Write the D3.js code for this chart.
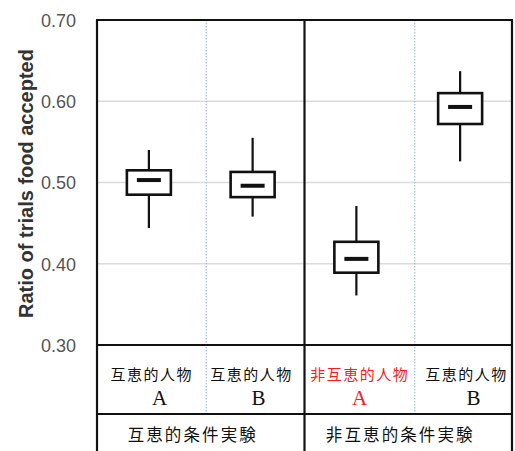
<!DOCTYPE html>
<html>
<head>
<meta charset="utf-8">
<script src="https://cdn.jsdelivr.net/npm/d3@7"></script>
<style>
  html, body { margin: 0; padding: 0; background: #fff; }
  svg { display: block; }
</style>
</head>
<body>
<svg id="chart" width="515" height="451"></svg>
<script>
// Box summaries per subject (ratio of trials in which food was accepted)
const whiskerLow  = [0.444, 0.458, 0.361, 0.526];
const quartile1   = [0.485, 0.482, 0.389, 0.572];
const medians     = [0.503, 0.496, 0.406, 0.593];
const quartile3   = [0.515, 0.513, 0.427, 0.610];
const whiskerHigh = [0.540, 0.555, 0.471, 0.637];

// Subject labels (two lines) and whether the subject behaved reciprocally
const subjectNames   = ["互恵的人物", "互恵的人物", "非互恵的人物", "互恵的人物"];
const subjectLetters = ["A", "B", "A", "B"];
const reciprocal     = [true, true, false, true];

// Experimental conditions, each covering two subjects
const conditions = ["互恵的条件実験", "非互恵的条件実験"];

const yTicks = [0.30, 0.40, 0.50, 0.60, 0.70];
const yTitle = "Ratio of trials food accepted";

const svg = d3.select("#chart");

const M = { left: 97, right: 512, top: 20, plot: 345, cat: 414, bottom: 451 };

const y = d3.scaleLinear().domain([0.30, 0.70]).range([M.plot, M.top]);
const x = d3.scaleBand().domain(d3.range(subjectNames.length)).range([M.left, M.right]).padding(0);
const xg = d3.scaleBand().domain(conditions).range([M.left, M.right]).padding(0);

// Table column edges: outer frame, condition divider and the dotted subject dividers
const dotted = [x(1) + 5.5, x(3) + 6.5];
const edges = [M.left, dotted[0], xg(conditions[1]), dotted[1], M.right];
const cellMid = i => (edges[i] + edges[i + 1]) / 2;
// Small hand-tuned nudges for the cell text (name line, letter line)
const nameNudge   = [0, -4, 0, 3];
const letterNudge = [8, 7, 0, 7];

// Horizontal gridlines
svg.append("g")
  .selectAll("line")
  .data(yTicks.filter(t => t > 0.30 && t < 0.70))
  .join("line")
  .attr("x1", M.left).attr("x2", M.right)
  .attr("y1", d => y(d)).attr("y2", d => y(d))
  .attr("stroke", "#dcdcdc").attr("stroke-width", 1.5);

// Dotted separators between subjects within each condition
svg.append("g")
  .selectAll("line")
  .data(dotted)
  .join("line")
  .attr("x1", d => d).attr("x2", d => d)
  .attr("y1", M.top).attr("y2", M.cat)
  .attr("stroke", "#8fb0dd").attr("stroke-width", 1)
  .attr("stroke-dasharray", "1.5,1.5");

// Y axis tick labels
const yAxis = d3.axisLeft(y).tickValues(yTicks).tickSize(0).tickPadding(0)
  .tickFormat(d3.format(".2f"));
const ya = svg.append("g").attr("transform", `translate(76,0)`).call(yAxis);
ya.select(".domain").remove();
ya.selectAll("text")
  .attr("font-family", "Liberation Sans, Arial, sans-serif")
  .attr("font-size", 18)
  .attr("fill", "#555")
  .attr("dy", "0.36em");

// Y axis title
svg.append("text")
  .attr("transform", `translate(33,183.5) rotate(-90)`)
  .attr("text-anchor", "middle")
  .attr("font-family", "Liberation Sans, Arial, sans-serif")
  .attr("font-weight", "bold")
  .attr("font-size", 20)
  .attr("fill", "#333")
  .text(yTitle);

// Box plots
const boxW = 44, medW = 24;
const boxes = svg.append("g").selectAll("g")
  .data(d3.range(subjectNames.length))
  .join("g")
  .attr("transform", i => `translate(${x(i) + x.bandwidth() / 2},0)`);

boxes.append("line")
  .attr("x1", 0).attr("x2", 0)
  .attr("y1", i => y(whiskerHigh[i])).attr("y2", i => y(whiskerLow[i]))
  .attr("stroke", "#111").attr("stroke-width", 2.2);

boxes.append("rect")
  .attr("x", -boxW / 2).attr("width", boxW)
  .attr("y", i => y(quartile3[i]))
  .attr("height", i => y(quartile1[i]) - y(quartile3[i]))
  .attr("fill", "#fff").attr("stroke", "#111").attr("stroke-width", 2.6);

boxes.append("line")
  .attr("x1", -medW / 2).attr("x2", medW / 2)
  .attr("y1", i => y(medians[i])).attr("y2", i => y(medians[i]))
  .attr("stroke", "#111").attr("stroke-width", 4);

// Frame and table lines
const frame = svg.append("g").attr("stroke", "#111").attr("stroke-width", 2.2).attr("fill", "none");
frame.append("line").attr("x1", M.left - 1).attr("x2", M.right + 1).attr("y1", M.top).attr("y2", M.top);
frame.append("line").attr("x1", M.left).attr("x2", M.left).attr("y1", M.top).attr("y2", M.bottom);
frame.append("line").attr("x1", M.right).attr("x2", M.right).attr("y1", M.top).attr("y2", M.bottom);
frame.append("line").attr("x1", edges[2]).attr("x2", edges[2]).attr("y1", M.top).attr("y2", M.bottom);
frame.append("line").attr("x1", M.left).attr("x2", M.right).attr("y1", M.plot).attr("y2", M.plot);
frame.append("line").attr("x1", M.left).attr("x2", M.right).attr("y1", M.cat).attr("y2", M.cat);

// Subject labels
const cat = svg.append("g").selectAll("g")
  .data(d3.range(subjectNames.length))
  .join("g")
  .attr("transform", i => `translate(${cellMid(i) + nameNudge[i]},0)`)
  .attr("fill", i => reciprocal[i] ? "#111" : "#ff1a1a");

cat.append("text")
  .attr("y", 374.5).attr("dy", "0.35em")
  .attr("text-anchor", "middle")
  .attr("font-family", "Noto Sans CJK JP, sans-serif")
  .attr("font-size", 15)
  .attr("letter-spacing", 1.5)
  .text(i => subjectNames[i]);

cat.append("text")
  .attr("x", i => letterNudge[i])
  .attr("y", 397.5).attr("dy", "0.34em")
  .attr("text-anchor", "middle")
  .attr("font-family", "Liberation Serif, serif")
  .attr("font-size", 21)
  .text(i => subjectLetters[i]);

// Condition labels
svg.append("g").selectAll("text")
  .data(conditions)
  .join("text")
  .attr("x", d => xg(d) + xg.bandwidth() / 2 - 8)
  .attr("y", 435).attr("dy", "0.35em")
  .attr("text-anchor", "middle")
  .attr("font-family", "Noto Sans CJK JP, sans-serif")
  .attr("font-size", 16.5)
  .attr("letter-spacing", 2.1)
  .attr("fill", "#111")
  .text(d => d);
</script>
</body>
</html>
